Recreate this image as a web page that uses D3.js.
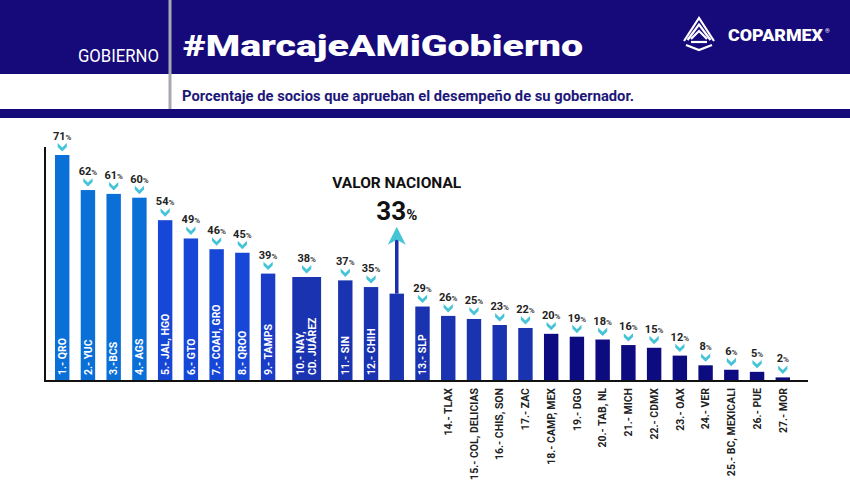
<!DOCTYPE html>
<html>
<head>
<meta charset="utf-8">
<script src="https://cdn.jsdelivr.net/npm/d3@7"></script>
<style>
  body { margin: 0; background: #fff; }
  svg { display: block; font-family: "Roboto", "Liberation Sans", sans-serif; }
</style>
</head>
<body>
<div id="chart"></div>
<script>
// Datos: % de socios que aprueban a su gobernador
var estados = ["1.- QRO", "2.- YUC", "3.-BCS", "4.- AGS", "5.- JAL, HGO", "6.- GTO",
  "7.- COAH, GRO", "8.- QROO", "9.- TAMPS", "10.- NAY,|CD. JUÁREZ", "11.- SIN", "12.- CHIH",
  "13.- SLP", "14.- TLAX", "15.- COL, DELICIAS", "16.- CHIS, SON", "17.- ZAC",
  "18.- CAMP, MEX", "19.- DGO", "20.- TAB, NL", "21.- MICH", "22.- CDMX", "23.- OAX",
  "24.- VER", "25.- BC, MEXICALI", "26.- PUE", "27.- MOR"];
var valores = [71, 62, 61, 60, 54, 49, 46, 45, 39, 38, 37, 35, 29, 26, 25, 23, 22,
  20, 19, 18, 16, 15, 12, 8, 6, 5, 2];
var nacionalTitulo = "VALOR NACIONAL";
var nacionalValor = 33;
var nacionalDespues = 12;   // la barra nacional va después del lugar 12
var etiquetasDentro = 13;   // los primeros 13 llevan la etiqueta dentro de la barra

var width = 850, height = 500;
var navy = "#16097a";

var svg = d3.select("#chart").append("svg")
  .attr("width", width).attr("height", height);

// ---- Encabezado ----
svg.append("rect").attr("x", 0).attr("y", 0).attr("width", width).attr("height", 74).attr("fill", navy);
svg.append("rect").attr("x", 0).attr("y", 109).attr("width", width).attr("height", 9).attr("fill", navy);
svg.append("line").attr("x1", 170).attr("x2", 170).attr("y1", 0).attr("y2", 109)
  .attr("stroke", "#a8a8b0").attr("stroke-width", 3);

svg.append("text").attr("x", 159).attr("y", 62).attr("text-anchor", "end")
  .attr("fill", "#fff").attr("font-size", 18).attr("textLength", 81)
  .attr("lengthAdjust", "spacingAndGlyphs").text("GOBIERNO");

svg.append("text").attr("x", 183).attr("y", 56)
  .attr("fill", "#fff").attr("font-size", 30).attr("font-weight", 900)
  .attr("textLength", 400).attr("lengthAdjust", "spacingAndGlyphs")
  .text("#MarcajeAMiGobierno");

svg.append("text").attr("x", 182).attr("y", 101)
  .attr("fill", "#1d1878").attr("font-size", 14).attr("font-weight", 700)
  .attr("textLength", 452).attr("lengthAdjust", "spacingAndGlyphs")
  .text("Porcentaje de socios que aprueban el desempeño de su gobernador.");

// logo
var logo = svg.append("g").attr("fill", "none").attr("stroke", "#fff").attr("stroke-width", 2.2)
  .attr("stroke-linejoin", "miter");
[0, 1, 2].forEach(function(k) {
  logo.append("path").attr("d", "M" + (684 + k * 3.5) + "," + (41 - k * 1) +
    " L699," + (18 + k * 6.5) + " L" + (714 - k * 3.5) + "," + (41 - k * 1));
});
logo.append("path").attr("d", "M686,45 L699,50 L712,45");
logo.append("path").attr("d", "M691,42 L707,42");
svg.append("text").attr("x", 728).attr("y", 41).attr("fill", "#fff")
  .attr("font-size", 16).attr("font-weight", 900).attr("textLength", 95)
  .attr("lengthAdjust", "spacingAndGlyphs").text("COPARMEX");
svg.append("text").attr("x", 825).attr("y", 33).attr("fill", "#fff")
  .attr("font-size", 6).text("®");

// ---- Filas ----
var rows = estados.map(function(e, i) {
  return { key: e, lines: e.split("|"), value: valores[i], rank: i + 1, nacional: false };
});
rows.splice(nacionalDespues, 0, { key: "NACIONAL", lines: [], value: nacionalValor, rank: 0, nacional: true });

// las barras con dos renglones ocupan dos lugares
var slots = [];
rows.forEach(function(d) {
  slots.push(d.key);
  if (d.lines.length > 1) slots.push(d.key + "+");
});

var baseY = 380;

var x = d3.scaleBand()
  .domain(slots)
  .range([55, 790])
  .paddingInner(0.44)
  .paddingOuter(0);

// la infografía no es lineal; una potencia se acerca a las alturas originales
var y = d3.scalePow().exponent(1.25)
  .domain([0, d3.max(valores)])
  .range([baseY, 155]);

var color = d3.scaleThreshold()
  .domain([5, 9, 10, 18])
  .range(["#0b6fd8", "#1747d6", "#1b3cc6", "#1a33b0", "#0d0b80"]);

var bw = x.bandwidth();
function wide(d) { return d.lines.length > 1; }
function cx(d) {
  return wide(d) ? (x(d.key) + x(d.key + "+") + bw) / 2 : x(d.key) + bw / 2;
}
function barW(d) { return wide(d) ? bw * 2 : bw; }

// ejes
svg.append("line").attr("x1", 45).attr("x2", 45).attr("y1", 147).attr("y2", baseY + 1)
  .attr("stroke", "#111").attr("stroke-width", 2);

var bars = svg.append("g").selectAll("rect").data(rows).enter().append("rect")
  .attr("x", function(d) { return cx(d) - barW(d) / 2; })
  .attr("y", function(d) { return y(d.value); })
  .attr("width", barW)
  .attr("height", function(d) { return baseY - y(d.value); })
  .attr("fill", function(d) { return d.nacional ? "#1a33b0" : color(d.rank); });

svg.append("line").attr("x1", 44).attr("x2", 808).attr("y1", baseY + 1).attr("y2", baseY + 1)
  .attr("stroke", "#111").attr("stroke-width", 2);

var estadosRows = rows.filter(function(d) { return !d.nacional; });

// chevrones
svg.append("g").selectAll("path").data(estadosRows).enter().append("path")
  .attr("transform", function(d) { return "translate(" + cx(d) + "," + (y(d.value) - 3.5) + ")"; })
  .attr("d", "M-4.6,-8.4 L0,-4 L4.6,-8.4 L4.6,-4.6 L0,0 L-4.6,-4.6 Z")
  .attr("fill", "#45c4d8");

// porcentajes
var pct = svg.append("g").selectAll("text").data(estadosRows).enter().append("text")
  .attr("x", cx)
  .attr("y", function(d) { return y(d.value) - 15; })
  .attr("text-anchor", "middle")
  .attr("fill", "#222")
  .attr("font-weight", 700);
pct.append("tspan").attr("font-size", 11).text(function(d) { return d.value; });
pct.append("tspan").attr("font-size", 8).attr("fill", "#444").text("%");

// nombres de estados
var names = svg.append("g").selectAll("text").data(estadosRows).enter().append("text")
  .attr("transform", function(d) {
    var inside = d.rank <= etiquetasDentro;
    return "translate(" + cx(d) + "," + (inside ? baseY - 5 : baseY + 8) + ") rotate(-90)";
  })
  .attr("text-anchor", function(d) { return d.rank <= etiquetasDentro ? "start" : "end"; })
  .attr("fill", function(d) { return d.rank <= etiquetasDentro ? "#fff" : "#222"; })
  .attr("font-size", 10.5)
  .attr("font-weight", 700);
names.selectAll("tspan").data(function(d) {
    return d.lines.map(function(l, i) { return { t: l, i: i, n: d.lines.length }; });
  }).enter().append("tspan")
  .attr("x", 0)
  .attr("y", function(l) { return (l.i - (l.n - 1) / 2) * 12; })
  .attr("dy", "0.36em")
  .text(function(l) { return l.t; });

// valor nacional
var nac = rows.filter(function(d) { return d.nacional; })[0];
var nx = cx(nac), ntop = y(nac.value);
var tipY = ntop - 67;
svg.append("line").attr("x1", nx).attr("x2", nx).attr("y1", ntop).attr("y2", tipY + 12)
  .attr("stroke", "#1c2fa8").attr("stroke-width", 3.5);
svg.append("path")
  .attr("transform", "translate(" + nx + "," + tipY + ")")
  .attr("d", "M0,0 L9,18 L0,13 L-9,18 Z")
  .attr("fill", "#45c4d8");
var big = svg.append("text").attr("x", nx).attr("y", tipY - 7)
  .attr("text-anchor", "middle").attr("fill", "#111").attr("font-weight", 700);
big.append("tspan").attr("font-size", 26).text(nac.value);
big.append("tspan").attr("font-size", 15).text("%");
svg.append("text").attr("x", nx).attr("y", tipY - 39)
  .attr("text-anchor", "middle").attr("fill", "#111")
  .attr("font-size", 15.5).attr("font-weight", 700).text(nacionalTitulo);
</script>
</body>
</html>
